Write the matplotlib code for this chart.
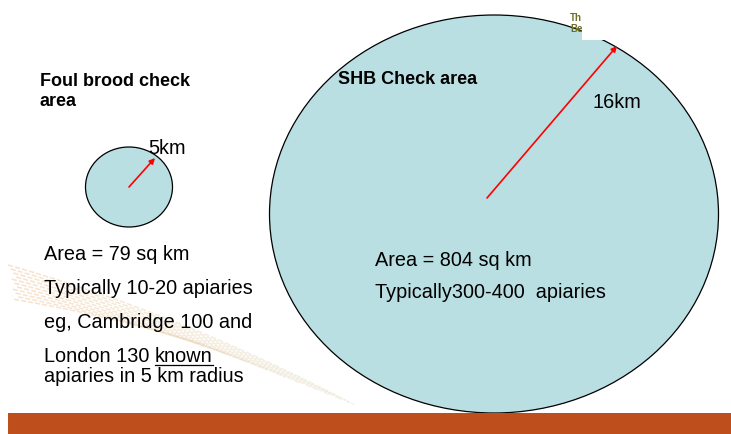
import matplotlib
matplotlib.use("Agg")
import matplotlib.pyplot as plt
from matplotlib.patches import Ellipse, Rectangle
from matplotlib.collections import LineCollection
import numpy as np

W, H = 731, 434
FONT = "Liberation Sans"

# Data: circles (center x, center y, width, height) in slide pixels
circle_names = ["Foul brood", "SHB"]
circle_centers = [(129, 187), (494, 214)]
circle_sizes = [(87, 80), (449, 398)]
radius_labels = ["5km", "16km"]
arrow_tips = [(155, 158), (617, 46)]
arrow_starts = [(129, 187), (487, 198)]

fig = plt.figure(figsize=(W / 100, H / 100), dpi=100)
ax = fig.add_axes([0, 0, 1, 1])
ax.set_xlim(0, W)
ax.set_ylim(H, 0)
ax.axis("off")

# decorative faint diagonal swoosh made of dashed lines
segs, cols = [], []
c_left = np.array([0.94, 0.72, 0.50])
c_right = np.array([0.82, 0.80, 0.68])
nlines = 11
for k in range(nlines):
    f = k / (nlines - 1)
    x0, y0 = 8 + 4 * f, 265 + 34 * f
    x1, y1 = 355 - 150 * f ** 1.5, 405 - 60 * f ** 1.5
    def yy(x, x0=x0, y0=y0, x1=x1, y1=y1):
        tt = (x - x0) / (x1 - x0)
        return y0 + (y1 - y0) * (0.7 * tt + 0.3 * tt ** 2)
    xa = x0 + (k * 2.3) % 7
    while xa < x1:
        xb = min(xa + 5.0, x1)
        t = (xa - 8) / 347
        segs.append([(xa, yy(xa)), (xb, yy(xb))])
        col = (1 - t) * c_left + t * c_right
        a = 0.42 * (1 - 0.5 * t)
        cols.append((*col, a))
        xa += 7.0
ax.add_collection(LineCollection(segs, colors=cols, linewidths=1.1, zorder=0))

fill = "#B9DFE3"
for (cx, cy), (w, h) in zip(circle_centers, circle_sizes):
    ax.add_patch(Ellipse((cx, cy), w, h, facecolor=fill, edgecolor="black", lw=0.9, zorder=1))

for s, e in zip(arrow_starts, arrow_tips):
    ax.annotate("", xy=e, xytext=s,
                arrowprops=dict(arrowstyle="-|>", color="red", lw=1.2, mutation_scale=8,
                                shrinkA=0, shrinkB=0), zorder=3)

# top-right logo remnants
ax.text(570, 18, "Th", fontsize=7, color="#6E6E2A", fontweight="bold", family=FONT, va="center", zorder=2)
ax.text(570, 29, "Be", fontsize=7, color="#6E6E2A", fontweight="bold", family=FONT, va="center", zorder=2)
ax.add_patch(Rectangle((582, 0), W - 582, 40, facecolor="white", edgecolor="none", zorder=2.5))

# orange bar at the bottom
ax.add_patch(Rectangle((8, 413), W - 8, H - 413, facecolor="#BE4F1D", edgecolor="none", zorder=4))

FS = 14.3
FB = 13
kw = dict(family=FONT, color="black", va="center", ha="left", zorder=5)
ax.text(40, 82, "Foul brood check", fontsize=FB, fontweight="bold", **kw)
ax.text(40, 101, "area", fontsize=FB, fontweight="bold", **kw)
ax.text(338, 80, "SHB Check area", fontsize=FB, fontweight="bold", **kw)

ax.text(148, 149, radius_labels[0], fontsize=FS, **kw)
ax.text(592, 103, radius_labels[1], fontsize=FS, **kw)

left_lines = [("Area = 79 sq km", 255), ("Typically 10-20 apiaries", 289),
              ("eg, Cambridge 100 and", 322), ("apiaries in 5 km radius", 377)]
for s, y in left_lines:
    ax.text(44, y, s, fontsize=FS, **kw)
t1 = ax.text(44, 356, "London 130 ", fontsize=FS, **kw)
fig.canvas.draw()
r = fig.canvas.get_renderer()
bb = t1.get_window_extent(r)
inv = ax.transData.inverted()
x_end = inv.transform((bb.x1, bb.y0))[0]
t2 = ax.text(x_end, 356, "known", fontsize=FS, **kw)
fig.canvas.draw()
bb2 = t2.get_window_extent(r)
xa = inv.transform((bb2.x0, 0))[0]
xb = inv.transform((bb2.x1, 0))[0]
ax.plot([xa, xb], [364.5, 364.5], color="black", lw=0.9, zorder=5)

ax.text(375, 261, "Area = 804 sq km", fontsize=FS, **kw)
ax.text(375, 293, "Typically300-400  apiaries", fontsize=FS, **kw)

fig.savefig("out.png", dpi=100)
